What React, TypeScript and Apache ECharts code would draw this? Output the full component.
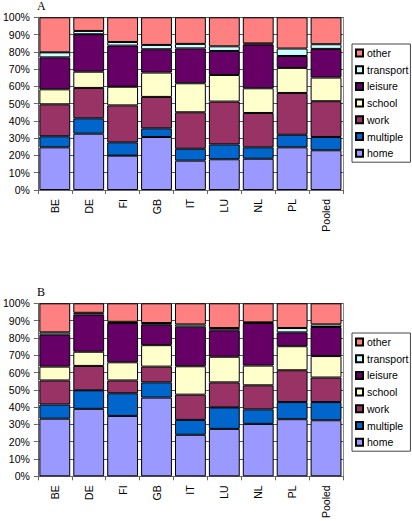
import React, { useEffect, useRef } from "react";
import * as echarts from "echarts";

const categories = ["BE", "DE", "FI", "GB", "IT", "LU", "NL", "PL", "Pooled"];
const seriesNames = ["home", "multiple", "work", "school", "leisure", "transport", "other"];
const yTicks = [0, 10, 20, 30, 40, 50, 60, 70, 80, 90, 100];

// Panel A (percent shares per category)
const homeA = [24.7, 32.6, 19.9, 30.7, 17.0, 17.8, 18.1, 24.7, 23.0];
const multipleA = [6.4, 8.9, 7.7, 5.0, 6.9, 8.6, 6.6, 7.3, 7.7];
const workA = [18.5, 17.6, 21.4, 18.2, 21.1, 24.8, 19.9, 24.2, 20.7];
const schoolA = [8.7, 9.4, 10.8, 14.1, 16.8, 15.4, 14.3, 14.5, 13.7];
const leisureA = [18.5, 21.7, 23.8, 13.5, 20.2, 13.9, 25.3, 6.9, 16.6];
const transportA = [2.9, 1.9, 2.1, 2.5, 2.6, 2.7, 0.7, 4.3, 2.7];
const otherA = [20.3, 7.9, 14.3, 16.0, 15.4, 16.8, 15.1, 18.1, 15.6];

// Panel B
const homeB = [33.3, 39.0, 34.9, 45.5, 24.0, 27.4, 30.3, 33.0, 32.4];
const multipleB = [8.2, 10.7, 13.1, 8.8, 8.6, 12.4, 8.4, 9.9, 10.5];
const workB = [13.9, 14.1, 7.4, 9.1, 14.6, 14.5, 13.9, 18.4, 14.2];
const schoolB = [8.0, 8.2, 10.5, 12.4, 16.4, 14.8, 11.4, 13.9, 12.4];
const leisureB = [18.5, 21.5, 22.7, 11.8, 22.9, 15.3, 24.6, 8.0, 16.8];
const transportB = [1.3, 1.0, 0.7, 1.0, 1.3, 1.3, 0.4, 2.5, 1.5];
const otherB = [16.8, 5.5, 10.7, 11.4, 12.2, 14.3, 11.0, 14.3, 12.2];

const colors = ["#9999FF", "#0066CC", "#993366", "#FFFFCC", "#660066", "#CCFFFF", "#FF8080"];

const FONT = "'Liberation Sans', Arial, sans-serif";

export default function App() {
  const ref = useRef<HTMLDivElement>(null);
  useEffect(() => {
    if (!ref.current) return;
    const chart = echarts.init(ref.current, undefined, { renderer: "svg" });
    const dataA = [homeA, multipleA, workA, schoolA, leisureA, transportA, otherA];
    const dataB = [homeB, multipleB, workB, schoolB, leisureB, transportB, otherB];

    const grids = [
      { left: 36, top: 17.3, width: 307, height: 172.7 },
      { left: 36, top: 303.3, width: 307, height: 175 },
    ];

    const xAxes = grids.map((_, i) => ({
      type: "category",
      gridIndex: i,
      data: categories,
      axisLine: { lineStyle: { color: "#666", width: 1 } },
      axisTick: { show: true, alignWithLabel: false, length: 4, lineStyle: { color: "#666" } },
      axisLabel: {
        rotate: 90,
        margin: 9,
        color: "#000",
        fontSize: 10.5,
        fontFamily: FONT,
        interval: 0,
      },
    }));

    const yAxes: any[] = [];
    grids.forEach((_, i) => {
      yAxes.push({
        type: "value",
        gridIndex: i,
        min: yTicks[0],
        max: yTicks[yTicks.length - 1],
        interval: 10,
        axisLine: { show: true, lineStyle: { color: "#666", width: 1 } },
        axisTick: { show: true, length: 4, lineStyle: { color: "#666" } },
        axisLabel: {
          formatter: "{value}%",
          color: "#000",
          fontSize: 10.5,
          fontFamily: FONT,
          margin: 8,
        },
        splitLine: { show: true, lineStyle: { color: "#555", width: 1 } },
      });
      yAxes.push({
        type: "value",
        gridIndex: i,
        position: "right",
        min: 0,
        max: 100,
        interval: 10,
        axisLine: { show: true, lineStyle: { color: "#888", width: 1 } },
        axisTick: { show: false },
        axisLabel: { show: false },
        splitLine: { show: false },
      });
    });

    const series: any[] = [];
    [dataA, dataB].forEach((data, gi) => {
      seriesNames.forEach((name, si) => {
        series.push({
          type: "bar",
          name,
          xAxisIndex: gi,
          yAxisIndex: gi * 2,
          stack: "s" + gi,
          data: data[si],
          barCategoryGap: "9%",
          itemStyle: { color: colors[si], borderColor: "#000", borderWidth: 1 },
        });
      });
    });

    const legendData = [...seriesNames].reverse();
    const legendBase = {
      orient: "vertical",
      data: legendData,
      icon: "rect",
      itemWidth: 7,
      itemHeight: 7,
      itemGap: 4.7,
      padding: [3, 2, 3, 3],
      borderColor: "#444",
      borderWidth: 1,
      selectedMode: false,
      textStyle: { color: "#000", fontSize: 10.5, fontFamily: FONT, lineHeight: 12, padding: [0, 0, 0, -1] },
    };

    chart.setOption({
      animation: false,
      backgroundColor: "#fff",
      grid: grids,
      xAxis: xAxes,
      yAxis: yAxes,
      legend: [
        { ...legendBase, left: 352, top: 44 },
        { ...legendBase, left: 352, top: 333 },
      ],
      graphic: [
        { type: "text", left: 37, top: 0, style: { text: "A", font: "12px 'Liberation Serif', serif", fill: "#000" } },
        { type: "text", left: 37, top: 286, style: { text: "B", font: "12px 'Liberation Serif', serif", fill: "#000" } },
      ],
      series,
    });
    return () => chart.dispose();
  }, []);
  return (
    <div
      ref={ref}
      style={{ position: "fixed", left: 0, top: 0, width: 412, height: 521, background: "#fff" }}
    />
  );
}
